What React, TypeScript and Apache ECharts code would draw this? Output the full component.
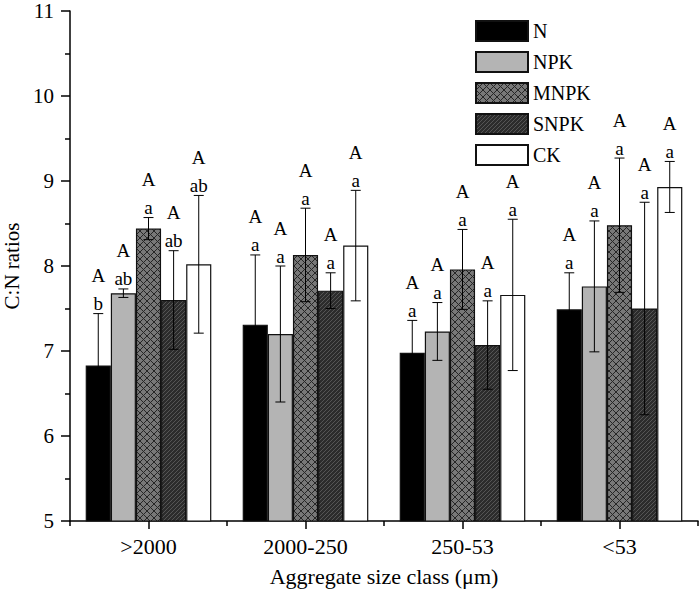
import React, { useEffect, useRef } from "react";
import * as echarts from "echarts";

const categories = [">2000", "2000-250", "250-53", "<53"];
const treatments = ["N", "NPK", "MNPK", "SNPK", "CK"];

const nMeans = [6.83, 7.31, 6.98, 7.49];
const npkMeans = [7.68, 7.2, 7.23, 7.76];
const mnpkMeans = [8.44, 8.13, 7.96, 8.48];
const snpkMeans = [7.6, 7.71, 7.07, 7.5];
const ckMeans = [8.02, 8.24, 7.66, 8.93];

const nSD = [0.61, 0.82, 0.38, 0.43];
const npkSD = [0.05, 0.8, 0.34, 0.77];
const mnpkSD = [0.13, 0.55, 0.47, 0.79];
const snpkSD = [0.58, 0.21, 0.52, 1.25];
const ckSD = [0.81, 0.65, 0.89, 0.3];

const nLower = ["b", "a", "a", "a"];
const npkLower = ["ab", "a", "a", "a"];
const mnpkLower = ["a", "a", "a", "a"];
const snpkLower = ["ab", "a", "a", "a"];
const ckLower = ["ab", "a", "a", "a"];

const upperLetters = ["A", "A", "A", "A"];

const yTicks = { min: 5, max: 11, interval: 1 };

const FONT = "Liberation Serif";

function makeCrossPattern() {
  const s = 7;
  const c = document.createElement("canvas");
  c.width = s;
  c.height = s;
  const ctx = c.getContext("2d")!;
  ctx.fillStyle = "#787878";
  ctx.fillRect(0, 0, s, s);
  ctx.strokeStyle = "#262626";
  ctx.lineWidth = 1;
  ctx.beginPath();
  ctx.moveTo(0, 0);
  ctx.lineTo(s, s);
  ctx.moveTo(s, 0);
  ctx.lineTo(0, s);
  ctx.stroke();
  return { image: c, repeat: "repeat", imageWidth: s, imageHeight: s };
}

function makeStripePattern() {
  const s = 4;
  const c = document.createElement("canvas");
  c.width = s;
  c.height = s;
  const ctx = c.getContext("2d")!;
  ctx.fillStyle = "#2c2c2c";
  ctx.fillRect(0, 0, s, s);
  ctx.strokeStyle = "#555555";
  ctx.lineWidth = 1;
  ctx.beginPath();
  ctx.moveTo(-1, s + 1);
  ctx.lineTo(s + 1, -1);
  ctx.moveTo(-1, 1);
  ctx.lineTo(1, -1);
  ctx.moveTo(s - 1, s + 1);
  ctx.lineTo(s + 1, s - 1);
  ctx.stroke();
  return { image: c, repeat: "repeat", imageWidth: s, imageHeight: s };
}

const richT = (size: number) => ({
  t: { fontFamily: FONT, fontSize: size, color: "#000" },
});

export default function App() {
  const ref = useRef<HTMLDivElement>(null);

  useEffect(() => {
    if (!ref.current) return;
    const chart = echarts.init(ref.current, null, { renderer: "svg" });

    const means = [nMeans, npkMeans, mnpkMeans, snpkMeans, ckMeans];
    const sds = [nSD, npkSD, mnpkSD, snpkSD, ckSD];
    const lowers = [nLower, npkLower, mnpkLower, snpkLower, ckLower];
    const fills: any[] = [
      "#000000",
      "#b4b4b4",
      makeCrossPattern(),
      makeStripePattern(),
      "#ffffff",
    ];

    const barSeries = treatments.map((name, i) => ({
      name,
      type: "bar",
      xAxisIndex: 0,
      data: means[i],
      barGap: "0%",
      barCategoryGap: "20%",
      itemStyle: {
        color: fills[i],
        borderColor: "#111",
        borderWidth: 1.2,
      },
      z: 2,
    }));

    const errSeries = treatments.map((name, i) => ({
      name: name + "-err",
      type: "custom",
      xAxisIndex: 0,
      z: 5,
      data: categories.map((_, c) => [c, means[i][c], sds[i][c]]),
      renderItem: (params: any, api: any) => {
        const c = api.value(0);
        const m = api.value(1);
        const sd = api.value(2);
        const band = api.size([1, 0])[0];
        const barW = (band * 0.8) / 5;
        const center = api.coord([c, m]);
        const x = center[0] + (i - 2) * barW;
        const top = api.coord([c, m + sd])[1];
        const bot = api.coord([c, m - sd])[1];
        const cap = 5;
        const ls = { stroke: "#000", lineWidth: 1 };
        return {
          type: "group",
          children: [
            { type: "line", shape: { x1: x, y1: top, x2: x, y2: bot }, style: ls },
            { type: "line", shape: { x1: x - cap, y1: top, x2: x + cap, y2: top }, style: ls },
            { type: "line", shape: { x1: x - cap, y1: bot, x2: x + cap, y2: bot }, style: ls },
            {
              type: "text",
              style: {
                text: lowers[i][c],
                x: x,
                y: top - 10,
                align: "center",
                verticalAlign: "middle",
                fontFamily: FONT,
                fontSize: 19,
                fill: "#000",
              },
            },
            {
              type: "text",
              style: {
                text: upperLetters[c],
                x: x,
                y: top - 38,
                align: "center",
                verticalAlign: "middle",
                fontFamily: FONT,
                fontSize: 19,
                fill: "#000",
              },
            },
          ],
        };
      },
    }));

    chart.setOption({
      animation: false,
      backgroundColor: "#ffffff",
      textStyle: { fontFamily: FONT },
      grid: {
        left: 70,
        right: 2,
        top: 11,
        bottom: 70,
        containLabel: false,
        outerBoundsMode: "none",
      },
      legend: {
        data: treatments,
        orient: "vertical",
        left: 475,
        top: 20,
        itemWidth: 52,
        itemHeight: 20,
        itemGap: 9,
        icon: "rect",
        textStyle: { fontFamily: FONT, fontSize: 20, color: "#000" },
        padding: 0,
      },
      xAxis: [
        {
          type: "category",
          data: categories,
          position: "bottom",
          axisLine: { show: true, lineStyle: { color: "#000", width: 1.5 } },
          axisTick: { show: true, alignWithLabel: true, length: 8, lineStyle: { color: "#000", width: 1.5 } },
          axisLabel: {
            fontFamily: FONT,
            fontSize: 22,
            color: "#000",
            margin: 14,
            formatter: (v: string) => "{t|" + v + "}",
            rich: richT(22),
          },
          name: "{t|Aggregate size class (\u03bcm)}",
          nameLocation: "middle",
          nameGap: 44,
          nameTextStyle: { fontFamily: FONT, fontSize: 22, color: "#000", rich: richT(22) },
          splitLine: { show: false },
        },
        {
          type: "category",
          data: categories,
          position: "bottom",
          axisLine: { show: false },
          axisTick: { show: true, alignWithLabel: false, length: 5, lineStyle: { color: "#000", width: 1.5 } },
          axisLabel: { show: false },
          splitLine: { show: false },
        },
      ],
      yAxis: {
        type: "value",
        min: yTicks.min,
        max: yTicks.max,
        interval: yTicks.interval,
        axisLine: { show: true, lineStyle: { color: "#000", width: 1.5 } },
        axisTick: { show: true, length: 9, lineStyle: { color: "#000", width: 1.5 } },
        minorTick: { show: true, splitNumber: 2, length: 5, lineStyle: { color: "#000", width: 1.5 } },
        axisLabel: {
          fontFamily: FONT,
          fontSize: 21,
          color: "#000",
          margin: 16,
          formatter: (v: number) => "{t|" + v + "}",
          rich: richT(21),
        },
        splitLine: { show: false },
        minorSplitLine: { show: false },
        name: "{t|C:N ratios}",
        nameLocation: "middle",
        nameGap: 47,
        nameRotate: 90,
        nameTextStyle: { fontFamily: FONT, fontSize: 21, color: "#000", rich: richT(21) },
      },
      series: [...barSeries, ...errSeries],
    });

    return () => chart.dispose();
  }, []);

  return (
    <div
      ref={ref}
      style={{ position: "fixed", left: 0, top: 0, width: 700, height: 591, background: "#fff" }}
    />
  );
}
